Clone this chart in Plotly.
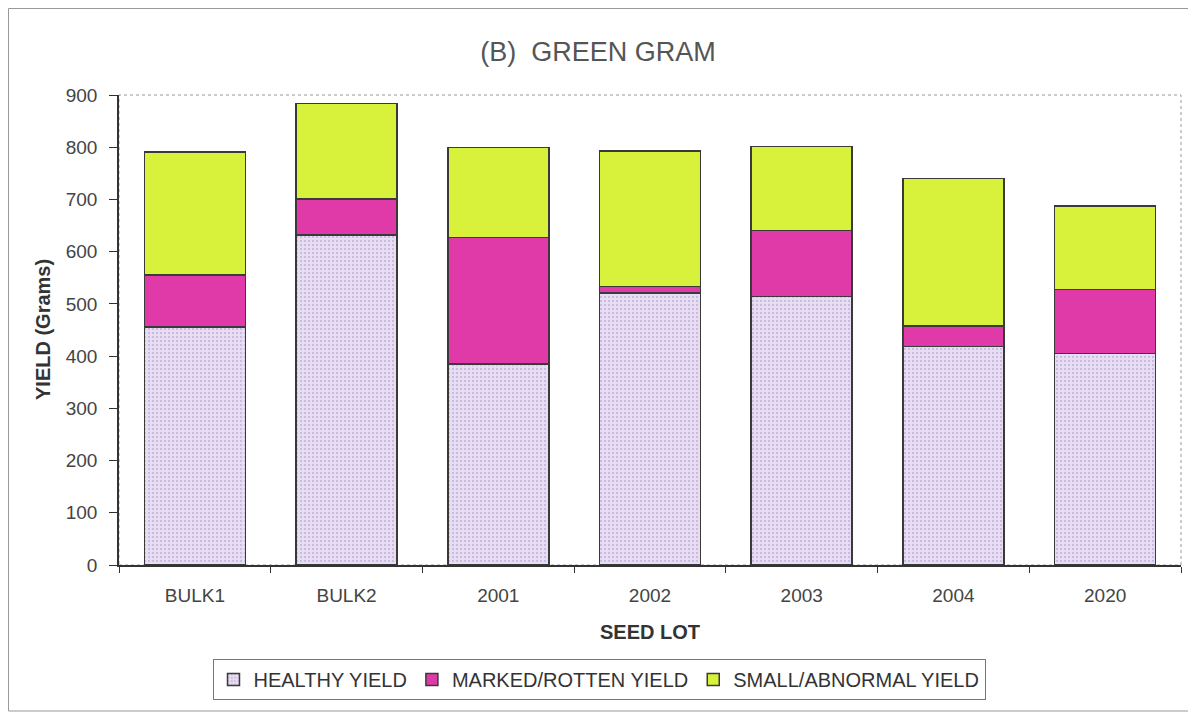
import plotly.graph_objects as go

seed_lots = ["BULK1", "BULK2", "2001", "2002", "2003", "2004", "2020"]
healthy_yield = [456, 632, 385, 521, 514, 418, 405]
marked_rotten_yield = [99, 69, 242, 12, 127, 40, 123]
small_abnormal_yield = [236, 183, 172, 260, 160, 282, 159]

FONT = "Liberation Sans, Arial, sans-serif"
OUTLINE = dict(color="#3a3a3a", width=1.5)

# The page body has an 8px margin, so the figure is sized/positioned to compensate.
W, H = 1188, 710
L, T, PW, PH = 111, 87, 1062, 470  # plot area in figure pixels

def px_x(x):
    return (x - L) / PW

def px_y(y):
    return (T + PH - y) / PH

fig = go.Figure()
fig.add_trace(go.Bar(
    name="HEALTHY YIELD", x=seed_lots, y=healthy_yield,
    marker=dict(color="#e8def3", line=OUTLINE,
                pattern=dict(shape=".", fgcolor="#a994d2", bgcolor="#e8def3",
                             size=4, solidity=0.25)),
))
fig.add_trace(go.Bar(
    name="MARKED/ROTTEN YIELD", x=seed_lots, y=marked_rotten_yield,
    marker=dict(color="#e03aa8", line=OUTLINE),
))
fig.add_trace(go.Bar(
    name="SMALL/ABNORMAL YIELD", x=seed_lots, y=small_abnormal_yield,
    marker=dict(color="#d8f23c", line=OUTLINE),
))

fig.update_layout(
    barmode="stack",
    bargap=0.334,
    width=W, height=H,
    margin=dict(l=L, r=W - L - PW, t=T, b=H - T - PH),
    paper_bgcolor="white", plot_bgcolor="white",
    font=dict(family=FONT, size=19, color="#444"),
    title=dict(text="(B)  GREEN GRAM", x=590 / W, xref="container",
               y=1 - 44 / H, yref="container", xanchor="center", yanchor="middle",
               font=dict(family=FONT, size=27, color="#555")),
    showlegend=True,
    legend=dict(orientation="h", xref="container", yref="container",
                x=591 / W, xanchor="center", y=1 - 671.5 / H, yanchor="middle",
                traceorder="normal", itemwidth=30,
                bordercolor="#777", borderwidth=1, bgcolor="white",
                font=dict(family=FONT, size=20, color="#333")),
    xaxis=dict(type="category", showline=True, linecolor="#333", linewidth=1.5,
               ticks="outside", ticklen=6, tickcolor="#333", tickson="boundaries",
               ticklabelstandoff=12, showgrid=False,
               tickfont=dict(family=FONT, size=19, color="#444")),
    yaxis=dict(range=[0, 900], dtick=100, showline=True, linecolor="#333", linewidth=1.5,
               ticks="outside", ticklen=8, tickcolor="#333", showgrid=False, zeroline=False,
               ticklabelstandoff=8,
               tickfont=dict(family=FONT, size=19, color="#444")),
    annotations=[
        dict(text="<b>YIELD (Grams)</b>", xref="paper", yref="paper",
             x=px_x(35), y=0.5, textangle=-90, showarrow=False,
             xanchor="center", yanchor="middle",
             font=dict(family=FONT, size=20, color="#333")),
        dict(text="<b>SEED LOT</b>", xref="paper", yref="paper",
             x=0.5, y=px_y(624), showarrow=False,
             xanchor="center", yanchor="middle",
             font=dict(family=FONT, size=20, color="#333")),
    ],
    shapes=[
        dict(type="rect", xref="x domain", yref="y domain", x0=0, x1=1, y0=0, y1=1,
             line=dict(color="#999", width=1, dash="dot"), layer="below"),
        dict(type="rect", xref="paper", yref="paper",
             x0=px_x(0.5), x1=px_x(1184),
             y0=px_y(703), y1=px_y(0.5),
             line=dict(color="#999", width=1), layer="below"),
    ],
)

fig.write_html("out.html")
